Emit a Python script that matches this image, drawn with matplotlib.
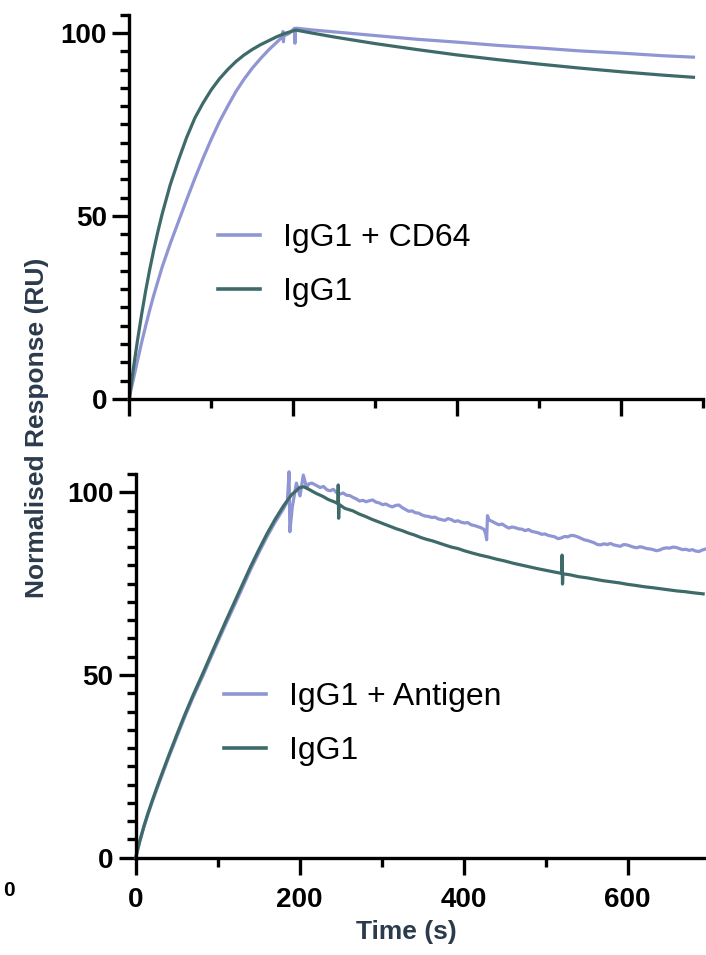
#!/usr/bin/env python3
# SPR sensorgrams, normalised response, two stacked panels
import numpy as np
import matplotlib
matplotlib.use("Agg")
import matplotlib.pyplot as plt
from matplotlib.ticker import MultipleLocator

LAV = "#8f96d3"
TEAL = "#3e6a6a"
LABEL_COL = "#2b3b4c"

# ---- top panel: IgG1 + CD64 vs IgG1 ----
top_lav_t = [0, 2, 5, 10, 15, 20, 25, 30, 40, 50, 60, 70, 80, 90, 100, 110, 120, 130,
             140, 150, 160, 170, 180, 186, 187.5, 188, 188.5, 195, 201.5, 202, 202.5,
             204, 225, 250, 275, 300, 350, 400, 450, 500, 550, 600, 650, 688]
top_lav_v = [0, 2.5, 5.4, 10.5, 15.4, 20, 24.4, 28.5, 36, 42.5, 48.5, 54.5, 60.3, 65.8,
             71, 75.8, 80, 84, 87.4, 90.4, 93, 95.4, 97.5, 98.8, 100.4, 97.6, 99.2,
             99.9, 101.3, 97.2, 101.2, 101.3, 100.8, 100.3, 99.8, 99.3, 98.3, 97.5,
             96.6, 95.9, 95.1, 94.5, 93.8, 93.4]

top_igg_t = [0, 5, 10, 15, 20, 25, 30, 35, 40, 50, 60, 70, 80, 90, 100, 110, 120, 130,
             140, 150, 160, 170, 180, 190, 203, 225, 250, 275, 300, 350, 400, 450, 500,
             550, 600, 650, 688]
top_igg_v = [0, 8.4, 16.0, 23.1, 29.6, 35.5, 40.9, 45.9, 50.5, 58.6, 65.3, 71.5, 76.8,
             80.9, 84.5, 87.5, 90.0, 92.2, 94.0, 95.5, 96.8, 97.9, 99.0, 99.9, 100.8,
             99.9, 98.9, 98.0, 97.1, 95.5, 94.0, 92.7, 91.5, 90.4, 89.4, 88.5, 87.9]

# ---- bottom panel: IgG1 + Antigen vs IgG1 ----
bot_lav_t = [0, 5, 10, 15, 20, 25, 30, 40, 50, 60, 70, 82, 95, 110, 127, 140, 150, 160,
             170, 180, 185, 187, 188, 191, 196, 200.4, 204.4, 208.5, 211,
             215, 220, 225, 229, 233, 237, 241, 245, 249, 253, 257, 261, 265, 269, 273,
             277, 281, 285, 289, 293, 297, 301, 305, 309, 313, 317, 321, 325, 329, 333,
             337, 341, 345, 349, 353, 357, 361, 365, 369, 373, 377, 381, 385, 389, 393,
             397, 401, 405, 409, 413, 417, 421, 425, 427, 428, 429, 431, 435, 439, 443,
             447, 451, 455, 459, 463, 467, 471, 475, 479, 483, 487, 491, 495, 499, 503,
             507, 511, 515, 519, 523, 527, 531, 535, 539, 543, 547, 551, 555, 559, 563,
             567, 571, 575, 579, 583, 587, 591, 595, 599, 603, 607, 611, 615, 619, 623,
             627, 631, 635, 639, 643, 647, 651, 655, 659, 663, 667, 671, 675, 679, 683,
             687, 691, 694]
bot_lav_v = [0, 4.5, 8.4, 11.9, 15.2, 18.3, 21.3, 27.3, 33.0, 38.6, 43.9, 49.8, 56.5,
             64.0, 72.3, 78.8, 83.4, 87.8, 91.8, 95.4, 97.5, 105.6, 89.2, 96, 102.5, 99,
             104.7, 101.2, 102.3,
             102.5, 101.9, 101.3, 101.6, 100.7, 100.4, 100.8, 99.9, 99.5, 99.8, 99.2,
             99.1, 98.6, 98.2, 97.6, 97.8, 97.4, 97.7, 97.9, 97.3, 97.1, 96.6, 96.8,
             96.3, 96.0, 96.4, 96.5, 95.8, 95.3, 94.8, 94.9, 94.4, 94.3, 93.8, 93.5,
             93.4, 93.1, 93.2, 92.7, 92.5, 92.3, 92.8, 92.5, 92.0, 92.2, 91.8, 91.6,
             91.7, 91.1, 90.9, 90.6, 90.3, 89.8, 88.4, 87.0, 93.6, 92.4, 92.0, 91.5,
             91.1, 91.3, 90.7, 90.2, 90.5, 90.3, 90.0, 89.9, 89.5, 89.8, 89.3, 89.1,
             88.9, 88.5, 88.6, 88.2, 88.0, 87.8, 87.3, 87.5, 87.9, 87.8, 88.2, 88.1,
             87.8, 87.4, 87.0, 86.8, 86.5, 86.2, 85.7, 85.6, 85.9, 85.7, 86.0, 85.6,
             85.4, 85.2, 85.7, 85.6, 85.3, 85.0, 84.8, 85.1, 84.9, 84.6, 84.5, 84.3,
             84.0, 84.2, 84.6, 84.8, 84.7, 85.0, 84.9, 84.6, 84.3, 84.4, 84.1, 84.3,
             83.9, 83.8, 84.2, 84.4]

bot_igg_t = [0, 5, 10, 15, 20, 25, 30, 40, 50, 60, 70, 82, 95, 110, 127, 140, 150, 160,
             170, 180, 190, 200, 205, 212, 220, 228, 235, 242, 246.5, 247, 247.5, 248,
             255, 265, 272, 280, 288, 295, 303, 310, 318, 325, 333, 340, 348, 355, 362,
             370, 378, 385, 393, 400, 410, 420, 430, 440, 450, 460, 470, 480, 490, 500,
             510, 519.5, 520, 520.5, 521, 530, 540, 550, 560, 570, 580, 590, 600, 610,
             620, 630, 640, 650, 660, 670, 680, 692]
bot_igg_v = [0, 4.6, 8.6, 12.2, 15.5, 18.7, 21.8, 27.8, 33.6, 39.2, 44.5, 50.5, 57.2,
             64.8, 73.2, 79.6, 84.2, 88.6, 92.6, 96.2, 99.3, 101.3, 101.5, 100.7, 99.7,
             98.9, 98.0, 97.4, 96.9, 102.0, 92.9, 96.7, 95.6, 94.9, 94.1, 93.4, 92.6,
             92.0, 91.3, 90.7, 90.0, 89.5, 88.8, 88.3, 87.6, 87.1, 86.7, 86.1, 85.5,
             85.0, 84.6, 84.05, 83.4, 82.8, 82.3, 81.7, 81.2, 80.6, 80.1, 79.6, 79.1,
             78.65, 78.2, 77.8, 82.8, 74.9, 77.7, 77.4, 76.9, 76.6, 76.2, 75.8, 75.5,
             75.2, 74.8, 74.5, 74.15, 73.9, 73.6, 73.3, 73.0, 72.8, 72.5, 72.2]

W, H = 706, 955
fig = plt.figure(figsize=(W / 100, H / 100), dpi=100)
plt.rcParams['font.family'] = ['Liberation Sans', 'DejaVu Sans']

ax1 = fig.add_axes([129.3 / W, 1 - 399.0 / H, 574.0 / W, 384.3 / H])
ax2 = fig.add_axes([135.7 / W, 1 - 857.7 / H, 574.0 / W, 383.7 / H])


def style(ax, labels):
    for s in ('top', 'right'):
        ax.spines[s].set_visible(False)
    for s in ('left', 'bottom'):
        ax.spines[s].set_linewidth(2.4)
    ax.set_xlim(0, 700)
    ax.set_ylim(0, 105)
    ax.xaxis.set_major_locator(MultipleLocator(200))
    ax.xaxis.set_minor_locator(MultipleLocator(100))
    ax.yaxis.set_major_locator(MultipleLocator(50))
    ax.yaxis.set_minor_locator(MultipleLocator(5))
    ax.tick_params(which='major', length=12, width=2.4, labelsize=20, pad=4)
    ax.tick_params(which='minor', length=6.5, width=2.4)
    ax.tick_params(axis='x', which='major', pad=9)
    for lab in ax.get_xticklabels() + ax.get_yticklabels():
        lab.set_fontweight('bold')
    if not labels:
        ax.tick_params(axis='x', labelbottom=False)
    for sp in ax.spines.values():
        sp.set_clip_on(False)


ax1.plot(top_lav_t, top_lav_v, color=LAV, lw=2.3, label="IgG1 + CD64", clip_on=False)
ax1.plot(top_igg_t, top_igg_v, color=TEAL, lw=2.3, label="IgG1", clip_on=False)
style(ax1, False)

ax2.plot(bot_lav_t, bot_lav_v, color=LAV, lw=2.3, label="IgG1 + Antigen", clip_on=False)
ax2.plot(bot_igg_t, bot_igg_v, color=TEAL, lw=2.3, label="IgG1", clip_on=False)
style(ax2, True)

for ax, x0, ytop in ((ax1, 218, 223), (ax2, 224, 682)):
    leg = ax.legend(loc='upper left', bbox_to_anchor=(x0 / W, 1 - ytop / H),
                    bbox_transform=fig.transFigure, frameon=False, fontsize=23,
                    handlelength=1.3, handletextpad=0.72, labelspacing=0.76,
                    borderpad=0, borderaxespad=0)
    for ln in leg.get_lines():
        ln.set_linewidth(2.6)

fig.text(37 / W, 1 - 428 / H, "Normalised Response (RU)", rotation=90,
         ha='center', va='center', fontsize=19, fontweight='bold', color=LABEL_COL)
fig.text(406 / W, 1 - 932 / H, "Time (s)", ha='center', va='center',
         fontsize=19, fontweight='bold', color=LABEL_COL)
# leftover tick label from a neighbouring panel at the left edge
fig.text(15 / W, 1 - 891 / H, "0", ha='right', va='center', fontsize=15,
         fontweight='bold', color='black')

fig.savefig("out.png", dpi=100)
